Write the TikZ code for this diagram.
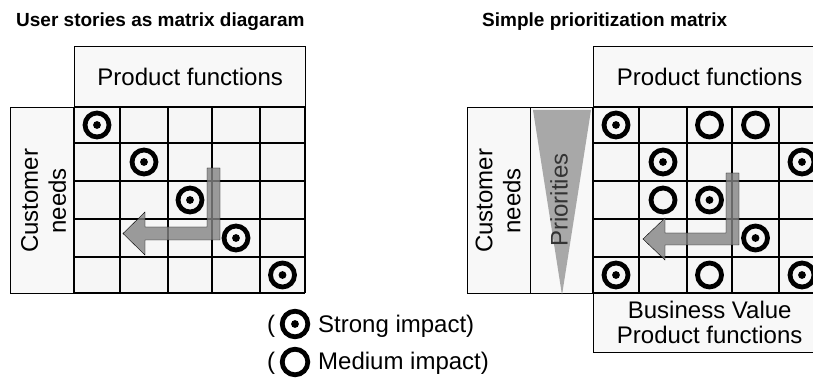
\documentclass[tikz,border=0pt]{standalone}
\usepackage{fontspec}
\setmainfont{Liberation Sans}
\definecolor{boxfill}{RGB}{248,248,248}
\definecolor{cellfill}{RGB}{246,246,246}
\definecolor{arrowgray}{RGB}{132,132,132}
\definecolor{wedgegray}{RGB}{168,168,168}
\tikzset{
  pics/strongmark/.style={code={
    \draw[line width=4.8pt] (0,0) circle[radius=#1];
    \fill (0,0) circle[radius=3.9pt];}},
  pics/strongmark/.default=12pt,
  pics/mediummark/.style={code={
    \draw[line width=4.8pt] (0,0) circle[radius=#1];}},
  pics/mediummark/.default=12pt,
}
\begin{document}
\begin{tikzpicture}[x=1pt,y=-1pt,
  box/.style={draw=black, line width=1.4pt, fill=boxfill, inner sep=0pt},
  lbl/.style={font=\fontsize{24}{26}\selectfont, align=center, inner sep=0pt},
  ttl/.style={font=\fontsize{19}{22}\selectfont\bfseries, inner sep=0pt, anchor=base west},
  gridline/.style={line width=1.6pt},
  bigarrow/.style={fill=arrowgray, fill opacity=0.8},
]
\useasboundingbox (0,0) rectangle (813,379);
\clip (0,0) rectangle (813,379);

% ---------- titles ----------
\node[ttl] (ltitle) at (16,27) {User stories as matrix diagaram};
\node[ttl] (rtitle) at (482,27) {Simple prioritization matrix};

% ---------- left matrix ----------
\node[box, minimum width=231pt, minimum height=61pt, anchor=north west] (lhead) at (74,46) {};
\node[lbl] (lheadtxt) at (lhead.center) {Product functions};
\node[box, minimum width=64pt, minimum height=186pt, anchor=north west] (lcust) at (10,107) {};
\node[lbl, rotate=90, font=\fontsize{24}{28}\selectfont] (lcusttxt) at ([xshift=1pt]lcust.center) {Customer\\needs};

\fill[cellfill] (74,107) rectangle (305,293);
\foreach \cx in {74,120,168,212,260,305}
  \draw[gridline] (\cx,107) -- (\cx,293);
\foreach \cy in {107,143,181,219,257,293}
  \draw[gridline] (74,\cy) -- (305,\cy);

\foreach \cx/\cy in {97/125, 144/162, 190/200, 236/238, 282.5/275}
  \pic at (\cx,\cy) {strongmark};

\draw[bigarrow] (207,168) -- (220,168) -- (220,240) -- (145,240) -- (145,255)
  -- (123,233.5) -- (145,212) -- (145,227) -- (207,227) -- cycle;

% ---------- right matrix ----------
\node[box, minimum width=232pt, minimum height=61pt, anchor=north west] (rhead) at (593,46) {};
\node[lbl] (rheadtxt) at (rhead.center) {Product functions};
\node[box, minimum width=63pt, minimum height=186pt, anchor=north west] (rcust) at (467,107) {};
\node[lbl, rotate=90, font=\fontsize{24}{28}\selectfont] (rcusttxt) at ([xshift=-1pt]rcust.center) {Customer\\needs};
\node[box, minimum width=63pt, minimum height=186pt, anchor=north west] (prio) at (530,107) {};
\fill[wedgegray] (533,110) -- (591,110) -- (562,295) -- cycle;
\node[lbl, rotate=90, text=black!80] (priotxt) at (559,200) {Priorities};
\node[box, minimum width=232pt, minimum height=59pt, anchor=north west] (bval) at (593,293) {};
\node[lbl, font=\fontsize{24}{25}\selectfont] (bvaltxt) at ([yshift=1pt]bval.center) {Business Value\\Product functions};

\fill[cellfill] (593,107) rectangle (825,293);
\foreach \cx in {593,639,687,732,779,825}
  \draw[gridline] (\cx,107) -- (\cx,293);
\foreach \cy in {107,143,181,219,257,293}
  \draw[gridline] (593,\cy) -- (825,\cy);

% strong and medium impact entries (column centre / row centre)
\foreach \cx/\cy in {616/125, 663/162, 802/162, 709.5/200, 755.5/238, 616/275, 802/275}
  \pic at (\cx,\cy) {strongmark};
\foreach \cx/\cy in {709.5/125, 755.5/125, 663/200, 709.5/275}
  \pic at (\cx,\cy) {mediummark};

\draw[bigarrow] (726,173) -- (739,173) -- (739,245) -- (665,245) -- (665,260)
  -- (643,239) -- (665,218) -- (665,233) -- (726,233) -- cycle;

% ---------- legend ----------
\node[lbl, anchor=base west] (lparA) at (267,332) {(};
\pic at (295,324) {strongmark=12.8pt};
\node[lbl, anchor=base west] (lstrong) at (318,332) {Strong impact)};
\node[lbl, anchor=base west] (lparB) at (267,369) {(};
\pic at (295,362) {mediummark=12.8pt};
\node[lbl, anchor=base west] (lmedium) at (318,369) {Medium impact)};
\end{tikzpicture}
\end{document}
